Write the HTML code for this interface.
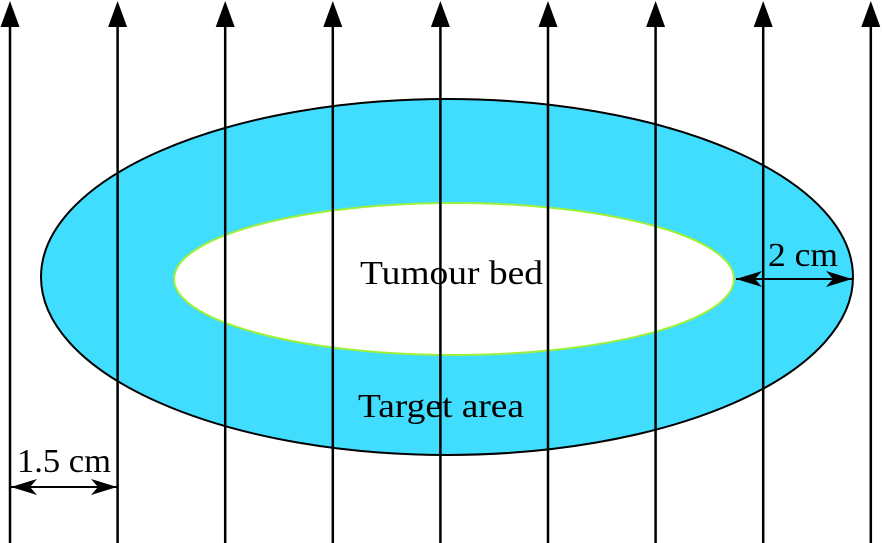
<!DOCTYPE html>
<html><head><meta charset="utf-8"><style>body{margin:0;background:#fff}svg{display:block}</style></head><body>
<svg width="882" height="543" viewBox="0 0 882 543" xmlns="http://www.w3.org/2000/svg">
<defs>
<marker id="h" viewBox="0 0 26 16" refX="26" refY="8" markerWidth="26" markerHeight="16" markerUnits="userSpaceOnUse" orient="auto-start-reverse">
<path d="M0,0 L26,8 L0,16 L7,8 Z" fill="#000"/></marker>
</defs>
<ellipse cx="447" cy="277" rx="406" ry="178" fill="#40DDFF" stroke="#000" stroke-width="2"/>
<ellipse cx="454" cy="279" rx="280" ry="76" fill="#fff" stroke="#9EF03A" stroke-width="2"/>
<g stroke="#000" stroke-width="2.5" fill="#000">
<g id="a"><line x1="10" y1="20" x2="10" y2="543"/><polygon points="10,1 0.5,27 19.5,27" stroke="none"/></g>
<use href="#a" x="107.6"/><use href="#a" x="215.2"/><use href="#a" x="322.8"/><use href="#a" x="430.4"/><use href="#a" x="538"/><use href="#a" x="645.6"/><use href="#a" x="753.2"/><use href="#a" x="860.8"/>
<line x1="736" y1="279" x2="852" y2="279" stroke-width="2" marker-start="url(#h)" marker-end="url(#h)"/>
<line x1="11" y1="487" x2="117" y2="487" stroke-width="2" marker-start="url(#h)" marker-end="url(#h)"/>
</g>
<g font-family="Liberation Serif, serif" font-size="34" fill="#000">
<text x="360" y="284" textLength="183" lengthAdjust="spacingAndGlyphs">Tumour bed</text>
<text x="358" y="417" textLength="166" lengthAdjust="spacingAndGlyphs">Target area</text>
<text x="768" y="266" textLength="70" lengthAdjust="spacingAndGlyphs">2 cm</text>
<text x="17" y="472" textLength="94" lengthAdjust="spacingAndGlyphs">1.5 cm</text>
</g>
</svg>
</body></html>
